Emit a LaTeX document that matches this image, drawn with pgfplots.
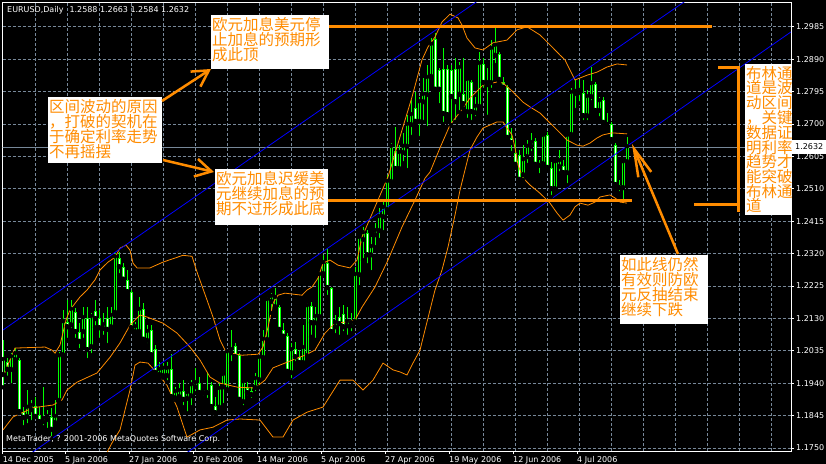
\documentclass[border=0pt]{standalone}
\usepackage{pgfplots}
\pgfplotsset{compat=1.18}
\usepackage{pgfplotstable}
\usepackage{fontspec}
\setmainfont{DejaVu Sans}
\newfontfamily\cjk{Noto Sans CJK SC}
\usetikzlibrary{arrows.meta}

\definecolor{mtorange}{RGB}{255,140,0}
\definecolor{mtgreen}{RGB}{0,255,0}
\definecolor{mtgrid}{RGB}{119,136,153}
\definecolor{mtblue}{RGB}{0,0,255}
\newcommand\mtfont{\fontsize{8bp}{9.5bp}\selectfont}

% daily candles, EURUSD: index, open, high, low, close
\pgfplotstableread{
i o h l c
0 1.1964 1.2067 1.1928 1.2008
1 1.2002 1.2014 1.1956 1.1979
2 1.1979 1.2028 1.1934 1.2016
3 1.2008 1.2044 1.2002 1.2025
4 1.2008 1.2014 1.1852 1.1855
5 1.1855 1.1870 1.1811 1.1838
6 1.1841 1.1920 1.1817 1.1868
7 1.1861 1.1891 1.1826 1.1873
8 1.1873 1.1899 1.1841 1.1841
9 1.1846 1.1870 1.1823 1.1826
10 1.1826 1.1928 1.1811 1.1835
11 1.1832 1.1861 1.1803 1.1841
12 1.1841 1.1868 1.1779 1.1803
13 1.1823 1.1891 1.1817 1.1841
14 1.1888 1.2031 1.1885 1.2019
15 1.2022 1.2155 1.2016 1.2119
16 1.2119 1.2184 1.2067 1.2104
17 1.2110 1.2184 1.2096 1.2155
18 1.2149 1.2161 1.2067 1.2090
19 1.2090 1.2116 1.2037 1.2061
20 1.2090 1.2163 1.2067 1.2131
21 1.2131 1.2163 1.2008 1.2037
22 1.2046 1.2146 1.2022 1.2134
23 1.2152 1.2184 1.2104 1.2128
24 1.2131 1.2155 1.2067 1.2101
25 1.2099 1.2146 1.2076 1.2110
26 1.2131 1.2163 1.2052 1.2096
27 1.2104 1.2163 1.2096 1.2137
28 1.2146 1.2321 1.2140 1.2309
29 1.2306 1.2324 1.2257 1.2280
30 1.2280 1.2292 1.2234 1.2243
31 1.2243 1.2272 1.2198 1.2207
32 1.2207 1.2213 1.2090 1.2101
33 1.2090 1.2119 1.2084 1.2104
34 1.2090 1.2193 1.2087 1.2155
35 1.2158 1.2175 1.2058 1.2067
36 1.2064 1.2110 1.2052 1.2090
37 1.2096 1.2110 1.2016 1.2022
38 1.2040 1.2052 1.1964 1.1970
39 1.1964 1.2002 1.1956 1.1979
40 1.1961 1.1999 1.1956 1.1982
41 1.1961 1.2002 1.1943 1.1982
42 1.1982 1.2025 1.1896 1.1899
43 1.1896 1.1928 1.1891 1.1914
44 1.1899 1.1940 1.1891 1.1917
45 1.1917 1.1949 1.1870 1.1891
46 1.1894 1.1920 1.1852 1.1911
47 1.1902 1.1949 1.1870 1.1934
48 1.1928 1.1985 1.1911 1.1940
49 1.1940 1.1958 1.1905 1.1911
50 1.1911 1.1928 1.1899 1.1920
51 1.1920 1.1970 1.1891 1.1911
52 1.1934 1.1943 1.1868 1.1870
53 1.1873 1.1899 1.1841 1.1852
54 1.1868 1.1940 1.1861 1.1923
55 1.1928 1.1970 1.1876 1.1964
56 1.1920 1.2037 1.1917 1.2031
57 1.2028 1.2096 1.1999 1.2037
58 1.2049 1.2058 1.2014 1.2016
59 1.2022 1.2028 1.1885 1.1891
60 1.1885 1.1949 1.1870 1.1943
61 1.1926 1.1943 1.1899 1.1911
62 1.1917 1.1928 1.1891 1.1905
63 1.1926 1.1970 1.1911 1.1952
64 1.1949 1.2016 1.1928 1.2014
65 1.2014 1.2096 1.2008 1.2067
66 1.2067 1.2193 1.2061 1.2184
67 1.2178 1.2204 1.2146 1.2193
68 1.2163 1.2219 1.2161 1.2190
69 1.2163 1.2169 1.2090 1.2096
70 1.2096 1.2116 1.2067 1.2076
71 1.2078 1.2087 1.1970 1.1973
72 1.1970 1.2058 1.1949 1.2037
73 1.2040 1.2061 1.1999 1.2016
74 1.2016 1.2037 1.1993 1.1999
75 1.1999 1.2110 1.1993 1.2043
76 1.2019 1.2175 1.2016 1.2166
77 1.2166 1.2178 1.2076 1.2116
78 1.2116 1.2163 1.2067 1.2134
79 1.2134 1.2263 1.2125 1.2257
80 1.2260 1.2315 1.2257 1.2292
81 1.2292 1.2336 1.2193 1.2219
82 1.2219 1.2222 1.2087 1.2090
83 1.2104 1.2140 1.2081 1.2116
84 1.2134 1.2163 1.2076 1.2113
85 1.2143 1.2169 1.2087 1.2104
86 1.2107 1.2163 1.2076 1.2119
87 1.2107 1.2146 1.2087 1.2116
88 1.2119 1.2280 1.2116 1.2257
89 1.2257 1.2374 1.2222 1.2366
90 1.2360 1.2398 1.2301 1.2380
91 1.2380 1.2389 1.2286 1.2315
92 1.2315 1.2369 1.2266 1.2339
93 1.2374 1.2409 1.2339 1.2386
94 1.2386 1.2454 1.2360 1.2427
95 1.2427 1.2477 1.2383 1.2454
96 1.2448 1.2551 1.2439 1.2530
97 1.2530 1.2644 1.2527 1.2633
98 1.2621 1.2691 1.2559 1.2568
99 1.2568 1.2638 1.2559 1.2615
100 1.2615 1.2673 1.2585 1.2633
101 1.2633 1.2726 1.2565 1.2697
102 1.2697 1.2770 1.2662 1.2726
103 1.2746 1.2794 1.2697 1.2706
104 1.2706 1.2779 1.2659 1.2764
105 1.2764 1.2835 1.2706 1.2785
106 1.2785 1.2873 1.2688 1.2835
107 1.2838 1.2952 1.2835 1.2932
108 1.2950 1.2967 1.2794 1.2800
109 1.2858 1.2864 1.2755 1.2800
110 1.2861 1.2923 1.2700 1.2729
111 1.2861 1.2873 1.2721 1.2726
112 1.2858 1.2873 1.2697 1.2779
113 1.2861 1.2894 1.2706 1.2764
114 1.2785 1.2882 1.2735 1.2864
115 1.2788 1.2894 1.2746 1.2758
116 1.2735 1.2835 1.2712 1.2829
117 1.2823 1.2829 1.2706 1.2735
118 1.2732 1.2779 1.2717 1.2750
119 1.2750 1.2911 1.2741 1.2876
120 1.2876 1.2894 1.2800 1.2820
121 1.2814 1.2864 1.2721 1.2820
122 1.2820 1.2946 1.2800 1.2920
123 1.2900 1.2982 1.2873 1.2929
124 1.2905 1.2911 1.2823 1.2829
125 1.2823 1.2838 1.2800 1.2806
126 1.2809 1.2815 1.2653 1.2659
127 1.2659 1.2688 1.2615 1.2644
128 1.2615 1.2653 1.2571 1.2580
129 1.2609 1.2624 1.2530 1.2536
130 1.2550 1.2638 1.2536 1.2594
131 1.2603 1.2653 1.2580 1.2633
132 1.2633 1.2673 1.2615 1.2644
133 1.2650 1.2659 1.2574 1.2580
134 1.2585 1.2594 1.2550 1.2577
135 1.2582 1.2673 1.2574 1.2665
136 1.2668 1.2676 1.2565 1.2571
137 1.2571 1.2588 1.2486 1.2509
138 1.2509 1.2594 1.2506 1.2588
139 1.2574 1.2624 1.2556 1.2591
140 1.2577 1.2594 1.2550 1.2556
141 1.2556 1.2673 1.2521 1.2665
142 1.2668 1.2806 1.2662 1.2791
143 1.2788 1.2829 1.2741 1.2794
144 1.2791 1.2829 1.2761 1.2797
145 1.2791 1.2829 1.2706 1.2723
146 1.2723 1.2800 1.2706 1.2779
147 1.2779 1.2867 1.2764 1.2817
148 1.2817 1.2823 1.2735 1.2738
149 1.2738 1.2779 1.2717 1.2767
150 1.2770 1.2779 1.2697 1.2703
151 1.2703 1.2732 1.2691 1.2697
152 1.2700 1.2706 1.2647 1.2653
153 1.2638 1.2644 1.2512 1.2521
154 1.2521 1.2536 1.2497 1.2512
155 1.2512 1.2594 1.2462 1.2588
156 1.2588 1.2663 1.2584 1.2632
}\candles

\pgfplotsset{candle/.style 2 args={only marks, mark=none, forget plot,
  error bars/.cd, y dir=plus, y explicit, error mark=none,
  error bar style={draw=#1, line width=#2}}}

\begin{document}
\begin{tikzpicture}
\fill[black] (-2.5bp,-13bp) rectangle (823.5bp,451bp);
\path[use as bounding box] (-2.5bp,-13bp) rectangle (823.5bp,451bp);
\begin{axis}[
  at={(0,0)}, anchor=south west,
  scale only axis, width=788.5bp, height=448.5bp,
  xmin=-0.125, xmax=197, ymin=1.17412, ymax=1.30562,
  axis line style={white, line width=1bp},
  xtick={-0.1,15.5,31.5,47.5,63.5,79.5,95.5,111.5,127.5,143.5},
  xticklabels={14 Dec 2005,5 Jan 2006,27 Jan 2006,20 Feb 2006,14 Mar 2006,5 Apr 2006,27 Apr 2006,19 May 2006,12 Jun 2006,4 Jul 2006},
  minor xtick={8,16,...,192},
  ytick={1.1750,1.1845,1.1940,1.2035,1.2130,1.2225,1.2320,1.2415,1.2510,1.2605,1.2700,1.2795,1.2890,1.2985},
  yticklabels={1.1750,1.1845,1.1940,1.2035,1.2130,1.2225,1.2320,1.2415,1.2510,1.2605,1.2700,1.2795,1.2890,1.2985},
  xtick pos=bottom, ytick pos=right, yticklabel pos=right,
  tick align=outside, major tick length=3bp, minor tick length=0bp,
  tick style={white, line width=0.8bp},
  xminorgrids=true, xmajorgrids=false, ymajorgrids=true,
  grid style={mtgrid, line width=0.8bp, dash pattern=on 3bp off 2bp},
  minor grid style={mtgrid, line width=0.8bp, dash pattern=on 3bp off 2bp},
  ticklabel style={font=\mtfont, text=white},
  xticklabel style={anchor=north west, inner sep=0pt, yshift=-2bp},
  yticklabel style={anchor=west, inner sep=0pt, xshift=2bp},
]
% current price line
\addplot[mtgrid, line width=1bp] coordinates {(-1,1.2632) (198,1.2632)};

% candles: wick, body outline, dark body, white (falling) body
\addplot[candle={mtgreen}{1bp}] table[x=i, y=l, y error plus expr=\thisrow{h}-\thisrow{l}] {\candles};
\addplot[candle={mtgreen}{3bp}] table[x=i, y expr={min(\thisrow{o},\thisrow{c})}, y error plus expr={max(abs(\thisrow{c}-\thisrow{o}),0.0003)}] {\candles};
\addplot[candle={black}{1bp}] table[x=i, y expr={min(\thisrow{o},\thisrow{c})+0.000293}, y error plus expr={max(abs(\thisrow{c}-\thisrow{o})-0.000586,0)}] {\candles};
\addplot[candle={white}{1bp}] table[x=i, y expr={\thisrow{c}+0.000293}, y error plus expr={max(\thisrow{o}-\thisrow{c}-0.000586,0)}] {\candles};

% Bollinger bands
\addplot[mtorange, line width=0.8bp] coordinates {
(0,1.1958) (1.75,1.2008) (3,1.2043) (10.5,1.2046) (12.25,1.2037) (13,1.2028) (14.25,1.2052) (14.75,1.2076) (15.75,1.2125) (16.75,1.2155) (19.25,1.2193) (21,1.2213) (23,1.2243) (24.25,1.2272) (26.25,1.2295) (28,1.2309) (29.25,1.2336) (30.75,1.2345) (31.75,1.2330) (32.5,1.2292) (33.5,1.2278) (36.75,1.2278) (40,1.2295) (45,1.2315) (47.25,1.2312) (48.5,1.2266) (51,1.2184) (52.5,1.2134) (54.25,1.2067) (55.5,1.2037) (57.25,1.2028) (59.75,1.2022) (63.75,1.2025) (65,1.2046) (66.25,1.2104) (67.5,1.2175) (68.75,1.2198) (70.5,1.2204) (74.75,1.2198) (76,1.2213) (77.25,1.2222) (78.75,1.2248) (80,1.2292) (81.75,1.2301) (83.75,1.2286) (86.75,1.2278) (88.5,1.2301) (89.75,1.2368) (93,1.2457) (96.25,1.2545) (99.75,1.2682) (102.25,1.2779) (104.75,1.2888) (106.25,1.2926) (108,1.2955) (109.75,1.2999) (111.75,1.3022) (113.75,1.3011) (114.75,1.2990) (116,1.2952) (118,1.2923) (120,1.2917) (122.5,1.2938) (126,1.2946) (128.5,1.2976) (131,1.2985) (134.25,1.2961) (136.75,1.2932) (139.25,1.2902) (140.5,1.2888) (141.75,1.2858) (143,1.2829) (144.25,1.2835) (146.25,1.2844) (148.5,1.2852) (151,1.2867) (153.5,1.2876) (156,1.2873)};
\addplot[mtorange, line width=0.8bp] coordinates {
(0,1.1803) (2.5,1.1841) (7.5,1.1868) (12.5,1.1876) (14.75,1.1891) (16,1.1920) (18.5,1.1943) (23.5,1.1970) (26.75,1.2016) (29.25,1.2058) (31.75,1.2110) (34.25,1.2140) (36,1.2134) (40,1.2116) (43.5,1.2087) (46.75,1.2046) (49.25,1.2008) (51.75,1.1958) (54.25,1.1940) (58.75,1.1928) (63,1.1926) (65.5,1.1949) (67.5,1.1985) (70.5,1.1999) (73,1.2011) (75.5,1.2022) (78,1.2037) (80.5,1.2087) (83,1.2116) (85.5,1.2119) (88,1.2125) (89.75,1.2163) (93,1.2222) (96.25,1.2301) (99.75,1.2398) (103,1.2477) (105.5,1.2541) (106.75,1.2559) (109.25,1.2630) (111.75,1.2697) (114.25,1.2735) (116.75,1.2776) (120,1.2814) (123.5,1.2823) (125,1.2820) (127.5,1.2794) (130,1.2764) (131.75,1.2750) (134.25,1.2732) (136.75,1.2703) (139.25,1.2674) (141,1.2653) (143.5,1.2638) (145,1.2635) (146.75,1.2644) (148.5,1.2659) (150,1.2668) (152.25,1.2674) (156,1.2671)};
\addplot[mtorange, line width=0.8bp] coordinates {
(25,1.1714) (27.25,1.1765) (29.25,1.1803) (31.75,1.1920) (33,1.1993) (34.25,1.2002) (36.25,1.1999) (38.5,1.1970) (41,1.1934) (43.5,1.1870) (46,1.1782) (49.25,1.1803) (52.5,1.1811) (56,1.1832) (59.25,1.1835) (64.25,1.1832) (67.5,1.1782) (70,1.1782) (72.5,1.1832) (76,1.1855) (80,1.1870) (84.25,1.1949) (87.5,1.1949) (90,1.1920) (92.5,1.1949) (95,1.1999) (97.5,1.1979) (99.25,1.1973) (101,1.1964) (102.5,1.1999) (104.25,1.2037) (105.5,1.2096) (108,1.2213) (109.75,1.2272) (111.25,1.2339) (113,1.2433) (114.25,1.2506) (115.5,1.2565) (116.75,1.2624) (118.5,1.2662) (120,1.2688) (123.5,1.2706) (125,1.2706) (126,1.2688) (127.25,1.2668) (128,1.2630) (128.75,1.2580) (130,1.2542) (131.75,1.2521) (134.25,1.2497) (136.75,1.2468) (138.5,1.2439) (140,1.2418) (141.75,1.2433) (143,1.2457) (144.25,1.2468) (146.25,1.2462) (148,1.2471) (149.25,1.2486) (151.75,1.2492) (153,1.2483) (154.25,1.2471) (156,1.2468)};

% channel lines
\addplot[mtblue, line width=0.8bp] coordinates {(0,1.2096) (124.25,1.3106)};
\addplot[mtblue, line width=0.8bp] coordinates {(0,1.1678) (174.25,1.3090)};
\addplot[mtblue, line width=0.8bp] coordinates {(36.75,1.1661) (197,1.2970)};

% drawn support / resistance lines and bracket
\addplot[mtorange, line width=3bp] coordinates {(80.5,1.2985) (177.25,1.2985)};
\addplot[mtorange, line width=3bp] coordinates {(80,1.2477) (157.25,1.2477)};
\addplot[mtorange, line width=3bp] coordinates {(178.75,1.2867) (183.75,1.2867) (183.75,1.2441)};
\addplot[mtorange, line width=3bp] coordinates {(172.75,1.2463) (183.75,1.2463)};
\end{axis}

\begin{scope}[x=1bp, y=-1bp, shift={(-2.5bp,451bp)},
  cjkbox/.style={inner sep=0pt, align=left, text=mtorange, font=\cjk\fontsize{15.5bp}{15bp}\selectfont},
  arr/.style={mtorange, line width=2.5bp, -{Straight Barb[length=16bp, width=18bp]}}]
\node[anchor=west, inner sep=0pt, text=white, font=\mtfont] at (7,10) {EURUSD,Daily\hspace{6bp}1.2588 1.2663 1.2584 1.2632};
\node[anchor=west, inner sep=0pt, text=white, font=\mtfont] at (6,439) {MetaTrader, ? 2001-2006 MetaQuotes Software Corp.};
\node[anchor=west, fill=white, text=black, font=\mtfont, inner sep=0pt, minimum width=34bp, minimum height=14bp] at (792,147) {1.2632};

\fill[white] (211,15) rectangle (329,69);
\node[cjkbox, anchor=north west] at (212,17) {欧元加息美元停\\止加息的预期形\\成此顶};
\fill[white] (48,97) rectangle (162,163);
\node[cjkbox, anchor=north west] at (49,99) {区间波动的原因\\，打破的契机在\\于确定利率走势\\不再摇摆};
\fill[white] (215,169) rectangle (328,225);
\node[cjkbox, anchor=north west] at (216,171) {欧元加息迟缓美\\元继续加息的预\\期不过形成此底};
\fill[white] (745,64) rectangle (792,215);
\node[cjkbox, anchor=north west, font=\cjk\fontsize{15.5bp}{14.6bp}\selectfont] at (746,66) {布林通\\道是波\\动区间\\，关键\\数据证\\明利率\\趋势才\\能突破\\布林通\\道};
\fill[white] (620,255) rectangle (708,324);
\node[cjkbox, anchor=north west] at (621,257) {如此线仍然\\有效则防欧\\元反抽结束\\继续下跌};

\draw[arr] (162,101) -- (211,69);
\draw[arr] (163,160) -- (214,172);
\draw[arr, -{Straight Barb[length=28bp, width=14bp]}] (678,254) -- (632,144);
\end{scope}
\end{tikzpicture}
\end{document}
